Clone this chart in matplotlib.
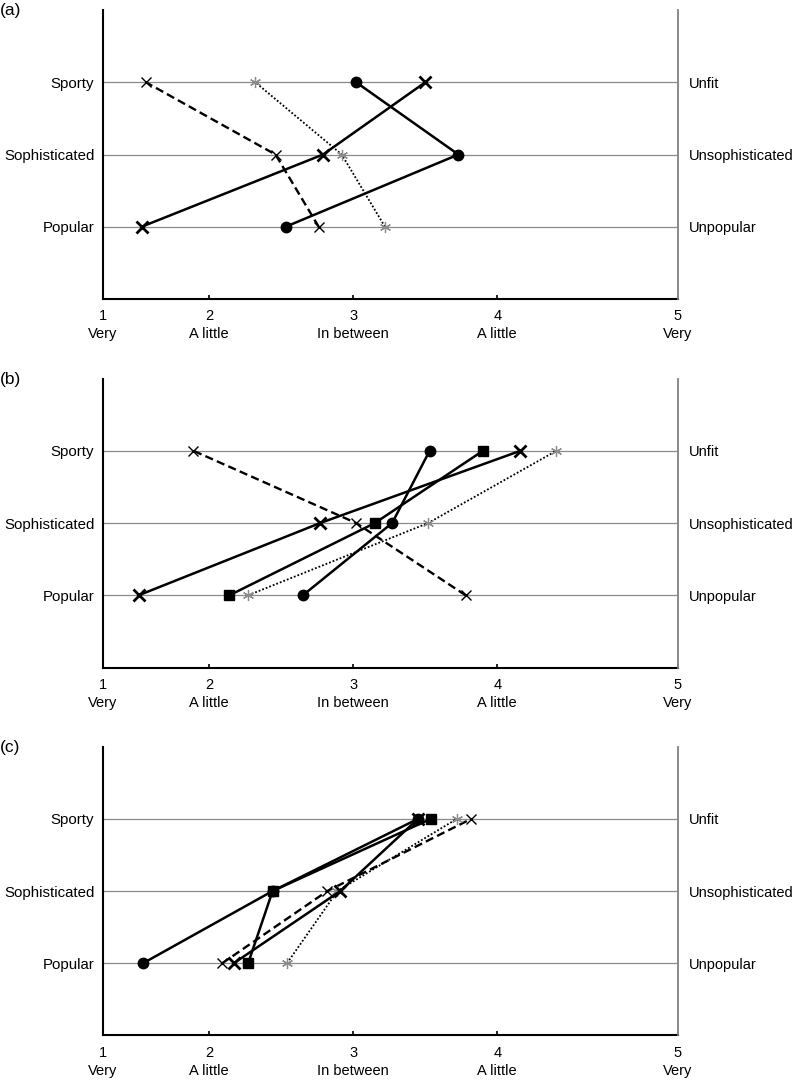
import matplotlib
matplotlib.use('Agg')
import matplotlib.pyplot as plt

plt.rcParams['font.family'] = ['Liberation Sans', 'DejaVu Sans']

# categories, bottom to top
left_labels = ['Popular', 'Sophisticated', 'Sporty']
right_labels = ['Unpopular', 'Unsophisticated', 'Unfit']
rows = [1, 2, 3]

x_ticks = [2, 3, 4]
x_tick_labels = ['1\nVery', '2\nA little', '3\nIn between', '4\nA little', '5\nVery']

# values per series: [Popular, Sophisticated, Sporty]
a_dashed = [2.76, 2.46, 1.56]
a_dotted = [3.22, 2.92, 2.32]
a_cross = [1.53, 2.79, 3.50]
a_circle = [2.53, 3.73, 3.02]

b_dashed = [3.78, 3.02, 1.89]
b_dotted = [2.27, 3.52, 4.41]
b_cross = [1.51, 2.77, 4.16]
b_square = [2.14, 3.15, 3.90]
b_circle = [2.65, 3.27, 3.53]

c_dashed = [2.09, 2.82, 3.82]
c_dotted = [2.54, 2.89, 3.72]
c_cross = [2.17, 2.91, 3.45]
c_square = [2.27, 2.44, 3.54]
c_circle = [1.54, 2.44, 3.45]

panels = [
    ('(a)', a_dashed, a_dotted, a_cross, None, a_circle),
    ('(b)', b_dashed, b_dotted, b_cross, b_square, b_circle),
    ('(c)', c_dashed, c_dotted, c_cross, c_square, c_circle),
]

# the ends of the axis are labelled 1 and 5
XMIN, XMAX = 1.26, 5.253

fig = plt.figure(figsize=(8.01, 10.81), dpi=100)
bottoms = [0.7234, 0.3825, 0.0421]

for (tag, dashed, dotted, cross, square, circle), b in zip(panels, bottoms):
    ax = fig.add_axes([0.1282, b, 0.7179, 0.2673])
    for r in rows:
        ax.axhline(r, color='#8a8a8a', lw=0.9, zorder=1)

    ax.plot(dashed, rows, color='black', lw=1.7, ls=(0, (3.5, 1.8)),
            marker='x', ms=7.5, mew=1.0, zorder=3)
    ax.plot(dotted, rows, color='black', lw=1.3, ls=(0, (1, 1.1)), zorder=3)
    ax.plot(dotted, rows, ls='none', marker=(6, 2, 0), ms=8, mew=0.9,
            color='#8c8c8c', zorder=4)
    ax.plot(circle, rows, color='black', lw=1.8, marker='o', ms=7.5, zorder=3)
    if square is not None:
        ax.plot(square, rows, color='black', lw=1.8, marker='s', ms=7.5, zorder=3)
    ax.plot(cross, rows, color='black', lw=1.8, marker='x', ms=8.5, mew=2.0, zorder=4)

    ax.set_xlim(XMIN, XMAX)
    ax.set_ylim(0, 4)
    ax.set_xticks([XMIN] + x_ticks + [XMAX])
    ax.set_xticklabels(x_tick_labels, fontsize=10.5, linespacing=1.35)
    ax.tick_params(axis='x', direction='in', length=3, width=1.2, pad=7.5)
    ax.set_yticks(rows)
    ax.set_yticklabels(left_labels, fontsize=10.8)
    ax.tick_params(axis='y', length=0, pad=6)

    ax.spines['top'].set_visible(False)
    ax.spines['left'].set_linewidth(1.5)
    ax.spines['bottom'].set_linewidth(1.5)
    ax.spines['right'].set_color('#8a8a8a')
    ax.spines['right'].set_linewidth(1.2)

    ax2 = ax.twinx()
    ax2.set_ylim(0, 4)
    ax2.set_yticks(rows)
    ax2.set_yticklabels(right_labels, fontsize=10.5)
    ax2.tick_params(axis='y', length=0, pad=8)
    for s in ['top', 'left', 'bottom']:
        ax2.spines[s].set_visible(False)
    ax2.spines['right'].set_color('#8a8a8a')
    ax2.spines['right'].set_linewidth(1.2)

    fig.text(0.0, b + 0.2673 - 0.0005, tag, fontsize=12.5, ha='left', va='center')

fig.savefig('out.png', dpi=100)
